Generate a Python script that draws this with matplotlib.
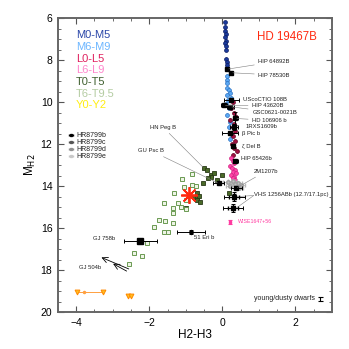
import matplotlib
matplotlib.use("Agg")
import matplotlib.pyplot as plt
from matplotlib.ticker import MultipleLocator

plt.rcParams['font.family'] = ['Liberation Sans', 'DejaVu Sans']

# ---------------- data ----------------
m_early_x = [0.07, 0.08, 0.07, 0.09, 0.07, 0.10, 0.08, 0.10, 0.09, 0.10, 0.12, 0.13, 0.14]
m_early_y = [6.20, 6.42, 6.60, 6.76, 6.92, 7.08, 7.20, 7.35, 7.50, 7.94, 8.10, 8.25, 8.40]

m_late_x = [0.12, 0.13, 0.14, 0.12, 0.18, 0.22, 0.14, 0.25, 0.16, 0.10, 0.18, 0.12, 0.20, 0.18, 0.24, 0.20]
m_late_y = [8.75, 8.95, 9.10, 9.32, 9.42, 9.56, 9.65, 9.80, 9.90, 10.10, 10.30, 10.60, 10.95, 11.20, 11.50, 11.75]

l_early_x = [0.30, 0.25, 0.33, 0.38, 0.22, 0.33, 0.28, 0.34, 0.30, 0.36, 0.26, 0.32, 0.40, 0.28]
l_early_y = [10.0, 10.3, 10.5, 10.7, 10.85, 11.05, 11.2, 11.4, 11.6, 11.85, 12.0, 12.2, 12.35, 12.5]

l_late_x = [0.23, 0.28, 0.33, 0.22, 0.26, 0.34, 0.28, 0.38, 0.24, 0.32, 0.28, 0.36]
l_late_y = [12.65, 12.80, 12.92, 13.05, 13.15, 13.22, 13.32, 13.40, 13.48, 13.55, 13.62, 13.70]

t_early_x = [-0.50, -0.42, -0.32, -0.23, -0.30, -0.39, 0.00, -0.54, -0.68, -0.77, -0.68, -0.64, -0.70, -0.61, -1.00, 0.18, -0.15]
t_early_y = [13.15, 13.25, 13.48, 13.40, 13.55, 13.62, 13.48, 13.87, 14.35, 14.50, 14.59, 14.45, 14.67, 14.78, 15.06, 14.35, 13.70]

t_late_x = [-0.82, -1.11, -0.84, -0.73, -1.04, -1.33, -1.00, -1.22, -1.60, -1.13, -1.36, -1.00,
            -1.36, -1.72, -1.56, -1.34, -1.88, -1.60, -1.49, -2.07, -2.42, -2.19, -2.56]
t_late_y = [13.43, 13.68, 13.95, 14.00, 14.03, 14.35, 14.67, 14.83, 14.81, 14.98, 15.06, 15.10,
            15.30, 15.62, 15.67, 15.75, 15.94, 16.20, 16.20, 16.70, 17.20, 17.32, 17.73]

young_x = [0.15, 0.28, 0.42, 0.50, 0.22, 0.35, 0.45]
young_y = [13.82, 13.75, 13.85, 13.95, 14.00, 13.90, 14.08]

y_dw_x = [-3.97, -3.26, -2.58, -2.50]
y_dw_y = [19.05, 19.05, 19.25, 19.25]

target_x, target_y = -0.92, 14.43

obj_names = ["HIP 64892B", "HIP 78530B", "UScoCTIO 108B", "HIP 43620B", "GSC0621-0021B",
             "HD 106906 b", "1RXS1609b", "\u03b2 Pic b", "\u03b6 Del B", "HIP 65426b",
             "2M1207b", "GU Psc B", "HN Peg B"]
obj_x = [0.14, 0.25, 0.25, 0.05, 0.22, 0.36, 0.32, 0.20, 0.30, 0.36, 0.38, -0.10, -0.50]
obj_y = [8.43, 8.60, 9.90, 10.15, 10.22, 10.78, 11.20, 11.47, 12.07, 12.80, 14.10, 13.87, 13.15]
obj_xerr = [0.04, 0.05, 0.20, 0.08, 0.10, 0.07, 0.12, 0.22, 0.05, 0.06, 0.15, 0.15, 0.0]
obj_yerr = [0.05, 0.05, 0.10, 0.08, 0.08, 0.30, 0.15, 0.10, 0.08, 0.10, 0.08, 0.06, 0.0]
lab_x = [0.99, 0.99, 0.57, 0.82, 0.82, 0.82, 0.63, 0.54, 0.54, 0.52, 0.86, -1.59, -1.27]
lab_y = [8.08, 8.71, 9.87, 10.16, 10.49, 10.87, 11.18, 11.49, 12.08, 12.68, 13.29, 12.32, 11.19]
lab_line = [True, True, False, True, True, True, False, False, False, False, True, True, True]

vhs_x = [0.33, 0.30]
vhs_y = [14.50, 15.05]

eri_x, eri_y = -0.86, 16.20
gj758_x, gj758_y = -2.24, 16.62
wise_x, wise_y = 0.22, 15.72

spt_labels = ["M0-M5", "M6-M9", "L0-L5", "L6-L9", "T0-T5", "T6-T9.5", "Y0-Y2"]
spt_colors = ["#2a46a8", "#6cb6ff", "#e0205e", "#ff86cc", "#3f5f2f", "#b4cca2", "#ffee10"]
hr_labels = ["HR8799b", "HR8799c", "HR8799d", "HR8799e"]
hr_colors = ["#000000", "#555555", "#909090", "#c8c8c8"]

# ---------------- figure ----------------
fig = plt.figure(figsize=(3.49, 3.49), dpi=100)
ax = fig.add_axes([0.166, 0.106, 0.785, 0.842])
ax.set_xlim(-4.5, 3.0)
ax.set_ylim(20, 6)

def pts(x, y, face, edge, marker='o', ms=2.8, yerr=0.07):
    ax.errorbar(x, y, yerr=yerr, fmt=marker, ms=ms, mfc=face, mec=edge, mew=0.5,
                ecolor=face, elinewidth=0.5, capsize=0, zorder=3)

pts(m_early_x, m_early_y, "#1a3a9c", "#0a1a60")
pts(m_late_x, m_late_y, "#5aa8f5", "#2a70c0")
pts(l_early_x, l_early_y, "#a01040", "#600020")
pts(l_late_x, l_late_y, "#ff44a8", "#d02080")

ax.plot(t_early_x, t_early_y, 's', ms=3.2, mfc="#4a6a28", mec="#2a3a18", mew=0.6, ls='none', zorder=3)
ax.plot(t_late_x, t_late_y, 's', ms=3.2, mfc="#eef4e6", mec="#6a9a52", mew=0.7, ls='none', zorder=3)

ax.errorbar(young_x, young_y, xerr=0.12, yerr=0.05, fmt='o', ms=2.5, mfc="#c0c0c0", mec="#a0a0a0",
            ecolor="#b8b8b8", elinewidth=0.6, capsize=1.2, zorder=4)

# Y dwarfs
ax.plot(y_dw_x[:2], y_dw_y[:2], '-', color="#ffa040", lw=0.7, zorder=3)
ax.plot([(y_dw_x[0] * 3 + y_dw_x[1]) / 4], [y_dw_y[0]], 'o', ms=1.5, color="#ffa040", zorder=3)
ax.plot(y_dw_x, y_dw_y, 'v', ms=3.5, mfc="#ffc020", mec="#ff8800", mew=0.7, ls='none', zorder=4)

# target
ax.plot([target_x], [target_y], marker=(8, 2, 0), ms=12, mec="#ff2a10", mew=1.3, ls='none', zorder=6)
ax.plot([target_x], [target_y], marker='o', ms=3, color="#ff2a10", ls='none', zorder=6)

# labelled companions
for n, x, y, xe, ye, tx, ty, ln in zip(obj_names, obj_x, obj_y, obj_xerr, obj_yerr, lab_x, lab_y, lab_line):
    if n != "HN Peg B":
        ax.errorbar([x], [y], xerr=xe, yerr=ye, fmt='s', ms=2.6, color='black', elinewidth=0.7,
                    capsize=1.2, capthick=0.7, zorder=7)
    ha = 'right' if tx < x else 'left'
    if ln:
        ax.annotate(n, xy=(x, y), xytext=(tx, ty), fontsize=4.2, ha=ha, va='center', color='#222222',
                    arrowprops=dict(arrowstyle='-', color='#808080', lw=0.4, shrinkA=1, shrinkB=1), zorder=8)
    else:
        ax.text(tx, ty, n, fontsize=4.2, ha=ha, va='center', color='#222222', zorder=8)

# VHS 1256 b
for vx, vy in zip(vhs_x, vhs_y):
    ax.errorbar([vx], [vy], xerr=0.28, yerr=0.2, fmt='s', ms=2.6, color='black', elinewidth=0.7,
                capsize=1.5, capthick=0.7, zorder=7)
    ax.errorbar([vx], [vy], xerr=0.14, yerr=0.1, fmt='none', ecolor='black', elinewidth=0.5,
                capsize=1.2, zorder=7)
    ax.annotate("", xy=(vx + 0.08, vy), xytext=(0.86, 14.45),
                arrowprops=dict(arrowstyle='-', color='#808080', lw=0.4, shrinkA=0, shrinkB=0))
ax.text(0.86, 14.38, "VHS 1256ABb (12.7/17.1pc)", fontsize=4.2, ha='left', va='center', color='#222222')

# WISE 1647+56
ax.errorbar([wise_x], [wise_y], yerr=0.08, fmt='none', ecolor="#ff3aa0", elinewidth=0.8, capsize=1.5, capthick=0.8)
ax.plot([wise_x], [wise_y], 's', ms=1.5, color="#ff3aa0")
ax.text(0.42, 15.71, "WISE1647+56", fontsize=3.8, ha='left', va='center', color="#ff3aa0")

# 51 Eri b
ax.errorbar([eri_x], [eri_y], xerr=0.38, yerr=0.1, fmt='D', ms=2.2, color='black', elinewidth=0.7,
            capsize=1.3, capthick=0.7, zorder=7)
ax.text(-0.78, 16.45, "51 Eri b", fontsize=4.2, ha='left', va='center', color='#222222')

# GJ 758 b
ax.errorbar([gj758_x], [gj758_y], xerr=0.44, yerr=0.06, fmt='s', ms=4, color='black', elinewidth=0.7,
            capsize=1.3, capthick=0.7, zorder=7)
ax.text(-2.93, 16.52, "GJ 758b", fontsize=4.2, ha='right', va='center', color='#222222')

# GJ 504 b (limits)
ax.annotate("", xy=(-3.31, 17.40), xytext=(-2.56, 17.95),
            arrowprops=dict(arrowstyle='->', color='black', lw=0.6, shrinkA=0, shrinkB=0))
ax.annotate("", xy=(-2.99, 17.70), xytext=(-2.62, 18.05),
            arrowprops=dict(arrowstyle='->', color='black', lw=0.6, shrinkA=0, shrinkB=0))
ax.text(-3.93, 17.89, "GJ 504b", fontsize=4.2, ha='left', va='center', color='#222222')

# spectral type legend
for i, (lab, c) in enumerate(zip(spt_labels, spt_colors)):
    ax.text(0.066, 0.942 - i * 0.0398, lab, transform=ax.transAxes, fontsize=8, color=c,
            ha='left', va='center')

# HR 8799 legend
for i, (lab, c) in enumerate(zip(hr_labels, hr_colors)):
    yy = 0.602 - i * 0.0238
    ax.errorbar([0.047], [yy], xerr=0.008, fmt='s', ms=1.4, color=c, elinewidth=0.6, capsize=1,
                transform=ax.transAxes)
    ax.text(0.066, yy, lab, transform=ax.transAxes, fontsize=5, color='#222222', ha='left', va='center')

ax.text(0.727, 0.935, "HD 19467B", transform=ax.transAxes, fontsize=8.3, color="#ff2a10",
        ha='left', va='center')

# young/dusty legend
ax.text(2.54, 19.38, "young/dusty dwarfs", fontsize=5, ha='right', va='center', color='#222222')
ax.errorbar([2.68], [19.38], yerr=0.1, fmt='none', ecolor='black', elinewidth=0.8, capsize=1.8, capthick=0.8)

# axes styling
ax.xaxis.set_major_locator(MultipleLocator(2))
ax.xaxis.set_minor_locator(MultipleLocator(0.5))
ax.yaxis.set_major_locator(MultipleLocator(2))
ax.yaxis.set_minor_locator(MultipleLocator(0.5))
ax.tick_params(which='both', direction='in', top=True, right=True, color='#555555', labelsize=7.5)
ax.tick_params(which='major', length=4.5, width=0.8, pad=4)
ax.tick_params(which='minor', length=2.5, width=0.6)
for s in ax.spines.values():
    s.set_color('#666666')
    s.set_linewidth(1.4)
ax.set_xlabel("H2-H3", fontsize=8.5, labelpad=1)
ax.set_ylabel("M$_{\\rm H2}$", fontsize=8.5, labelpad=2)

fig.savefig("out.png", dpi=100)
